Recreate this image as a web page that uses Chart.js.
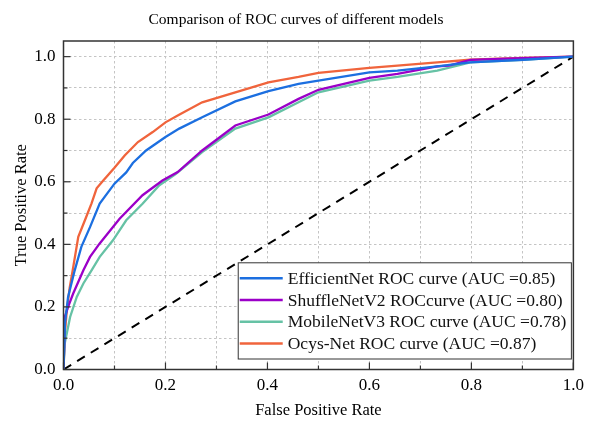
<!DOCTYPE html>
<html>
<head>
<meta charset="utf-8">
<script src="https://cdn.jsdelivr.net/npm/chart.js@4.4.0/dist/chart.umd.min.js"></script>
<style>
    html, body { margin: 0; padding: 0; background: #fff; }
    #wrap { width: 590px; height: 423px; position: relative; }
</style>
</head>
<body>
<div id="wrap"><canvas id="roc"></canvas></div>
<script>
// ROC curves
const tickVals = [0, 0.1, 0.2, 0.3, 0.4, 0.5, 0.6, 0.7, 0.8, 0.9, 1.0];

const effFpr = [0, 0.003, 0.009, 0.022, 0.035, 0.052, 0.071, 0.1, 0.123, 0.136, 0.162, 0.2, 0.227, 0.272, 0.337, 0.402, 0.461, 0.5, 0.6, 0.655, 0.733, 0.797, 0.902, 1.0];
const effTpr = [0, 0.15, 0.232, 0.317, 0.392, 0.455, 0.53, 0.594, 0.63, 0.66, 0.70, 0.743, 0.77, 0.806, 0.857, 0.89, 0.913, 0.923, 0.95, 0.955, 0.969, 0.982, 0.99, 1.0];

const shuffleFpr = [0, 0.003, 0.009, 0.019, 0.039, 0.052, 0.071, 0.11, 0.155, 0.194, 0.224, 0.272, 0.337, 0.402, 0.461, 0.5, 0.6, 0.655, 0.733, 0.756, 0.798, 0.9, 1.0];
const shuffleTpr = [0, 0.17, 0.2, 0.243, 0.317, 0.36, 0.403, 0.482, 0.557, 0.604, 0.631, 0.70, 0.78, 0.815, 0.865, 0.894, 0.932, 0.945, 0.969, 0.971, 0.99, 0.995, 1.0];

const mobileFpr = [0, 0.002, 0.013, 0.026, 0.039, 0.055, 0.071, 0.097, 0.123, 0.155, 0.188, 0.22, 0.272, 0.337, 0.402, 0.461, 0.5, 0.6, 0.655, 0.733, 0.798, 0.9, 1.0];
const mobileTpr = [0, 0.08, 0.168, 0.232, 0.275, 0.317, 0.36, 0.413, 0.477, 0.53, 0.589, 0.625, 0.695, 0.77, 0.806, 0.854, 0.886, 0.923, 0.935, 0.955, 0.982, 0.99, 1.0];

const ocysFpr = [0, 0.003, 0.006, 0.012, 0.018, 0.029, 0.042, 0.055, 0.065, 0.078, 0.1, 0.12, 0.146, 0.175, 0.2, 0.224, 0.272, 0.337, 0.402, 0.461, 0.5, 0.6, 0.655, 0.733, 0.797, 0.9, 1.0];
const ocysTpr = [0, 0.12, 0.18, 0.26, 0.317, 0.424, 0.477, 0.531, 0.579, 0.604, 0.645, 0.684, 0.727, 0.759, 0.79, 0.812, 0.854, 0.886, 0.918, 0.935, 0.948, 0.964, 0.971, 0.982, 0.99, 0.996, 1.0];

const chanceFpr = [0, 1];
const chanceTpr = [0, 1];

const labels = [
    'EfficientNet ROC curve (AUC =0.85)',
    'ShuffleNetV2 ROCcurve (AUC =0.80)',
    'MobileNetV3 ROC curve (AUC =0.78)',
    'Ocys-Net ROC curve (AUC =0.87)'
];
const colors = ['#1c6fe0', '#9b00c8', '#66c2a5', '#f0643c'];
const titleText = 'Comparison of ROC curves of different models';

const FONT = '"Liberation Serif", "Times New Roman", serif';

const pts = (xs, ys) => xs.map((v, i) => ({ x: v, y: ys[i] }));

// title centred on the canvas (chart.js title follows layout padding)
const canvasTitle = {
    id: 'canvasTitle',
    afterDraw(chart) {
        const { ctx } = chart;
        ctx.save();
        ctx.font = '15.5px ' + FONT;
        ctx.fillStyle = '#000';
        ctx.textAlign = 'center';
        ctx.textBaseline = 'middle';
        ctx.fillText(titleText, chart.width / 2 + 1, 20);
        ctx.restore();
    }
};

// frame + inward ticks (left/bottom)
const frameTicks = {
    id: 'frameTicks',
    afterDatasetsDraw(chart) {
        const { ctx, chartArea: a, scales: { x, y } } = chart;
        ctx.save();
        ctx.strokeStyle = '#333';
        ctx.lineWidth = 1.5;
        ctx.strokeRect(a.left, a.top, a.right - a.left, a.bottom - a.top);
        ctx.lineWidth = 1.2;
        tickVals.forEach((v, i) => {
            const len = i % 2 === 0 ? 7 : 4;
            const px = x.getPixelForValue(v);
            ctx.beginPath(); ctx.moveTo(px, a.bottom); ctx.lineTo(px, a.bottom - len); ctx.stroke();
            const py = y.getPixelForValue(v);
            ctx.beginPath(); ctx.moveTo(a.left, py); ctx.lineTo(a.left + len, py); ctx.stroke();
        });
        ctx.restore();
    }
};

// boxed legend inside the plot, lower right
const boxLegend = {
    id: 'boxLegend',
    afterDraw(chart) {
        const { ctx, chartArea: a } = chart;
        const items = chart.data.datasets.filter(d => d.inLegend);
        ctx.save();
        ctx.font = '17.5px ' + FONT;
        const textW = Math.max(...items.map(d => ctx.measureText(d.label).width));
        const rowH = 21.8, lineLen = 43, gap = 5, padX = 1.5, padY = 4.5;
        const w = padX + lineLen + gap + textW + 5;
        const h = items.length * rowH + padY * 2;
        const right = a.right - 2, bottom = a.bottom - 10.5;
        const left = right - w, top = bottom - h;
        ctx.fillStyle = '#fff';
        ctx.fillRect(left, top, w, h);
        ctx.strokeStyle = '#333';
        ctx.lineWidth = 1;
        ctx.strokeRect(left, top, w, h);
        items.forEach((d, i) => {
            const cy = top + padY + rowH * (i + 0.5);
            ctx.strokeStyle = d.borderColor;
            ctx.lineWidth = 2.5;
            ctx.beginPath(); ctx.moveTo(left + padX, cy); ctx.lineTo(left + padX + lineLen, cy); ctx.stroke();
            ctx.fillStyle = '#111';
            ctx.textBaseline = 'middle';
            ctx.textAlign = 'left';
            ctx.fillText(d.label, left + padX + lineLen + gap, cy + 1);
        });
        ctx.restore();
    }
};

const tickCb = (value) => {
    const v = Math.round(value * 10);
    return v % 2 === 0 ? (v / 10).toFixed(1) : '';
};

const series = [
    [effFpr, effTpr], [shuffleFpr, shuffleTpr], [mobileFpr, mobileTpr], [ocysFpr, ocysTpr]
];

const datasets = series.map((s, i) => ({
    label: labels[i],
    data: pts(s[0], s[1]),
    borderColor: colors[i],
    backgroundColor: colors[i],
    borderWidth: 2.3,
    pointRadius: 0,
    showLine: true,
    tension: 0,
    inLegend: true
}));
datasets.push({
    label: 'chance',
    data: pts(chanceFpr, chanceTpr),
    borderColor: '#000',
    borderWidth: 2,
    borderDash: [9, 7],
    pointRadius: 0,
    showLine: true,
    inLegend: false
});

new Chart(document.getElementById('roc').getContext('2d'), {
    type: 'scatter',
    data: { datasets },
    plugins: [frameTicks, boxLegend, canvasTitle],
    options: {
        responsive: true,
        maintainAspectRatio: false,
        animation: false,
        layout: { padding: { left: 0, right: 13, top: 41, bottom: 0 } },
        plugins: {
            legend: { display: false },
            tooltip: { enabled: false },
            title: { display: false }
        },
        scales: {
            x: {
                type: 'linear',
                min: 0, max: 1,
                afterFit: (s) => { s.height = 53.5; },
                grid: { color: '#c4c4c4', lineWidth: 1, drawTicks: false },
                border: { display: false, dash: [2.5, 2.5] },
                ticks: { stepSize: 0.1, autoSkip: false, maxRotation: 0, includeBounds: false,
                    padding: 6, color: '#000', font: { family: FONT, size: 17 }, callback: tickCb },
                title: { display: true, text: 'False Positive Rate', color: '#000',
                    font: { family: FONT, size: 16.5 }, padding: { top: 0, bottom: 2 } }
            },
            y: {
                type: 'linear',
                min: 0, max: 1.05,
                afterFit: (s) => { s.width = 63.5; },
                grid: { color: '#c4c4c4', lineWidth: 1, drawTicks: false },
                border: { display: false, dash: [2.5, 2.5] },
                ticks: { stepSize: 0.1, autoSkip: false, includeBounds: false,
                    padding: 8, color: '#000', font: { family: FONT, size: 17 }, callback: tickCb },
                title: { display: true, text: 'True Positive Rate', color: '#000',
                    font: { family: FONT, size: 16.5 }, padding: { top: 12, bottom: 0 } }
            }
        }
    }
});
</script>
</body>
</html>
